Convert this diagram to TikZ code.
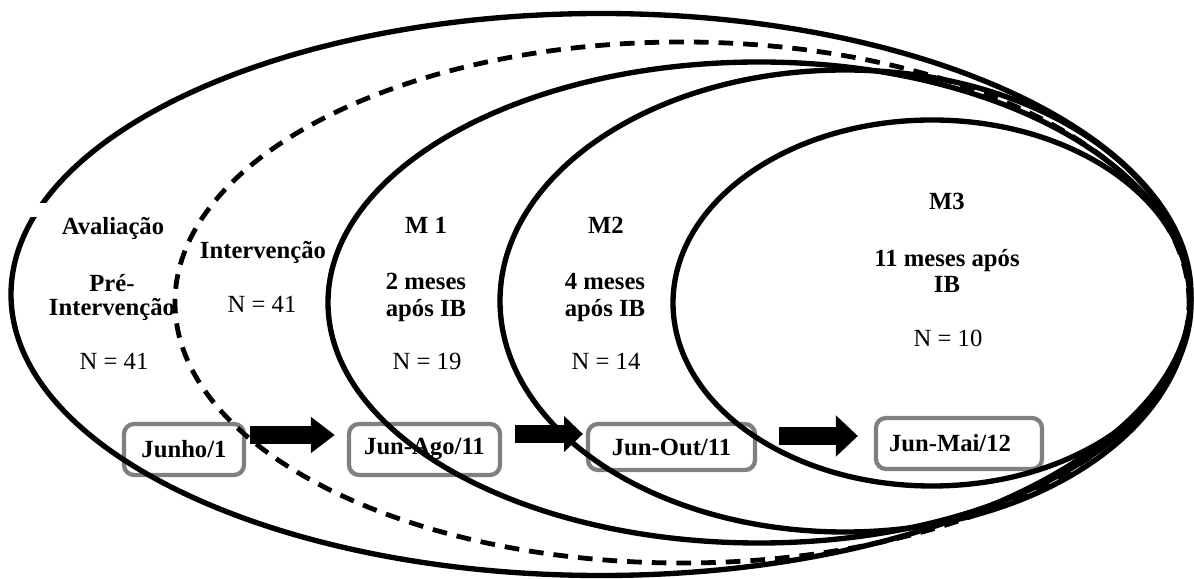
\documentclass[tikz,border=0pt]{standalone}
\usepackage{fontspec}
\setmainfont{Liberation Serif}
\usetikzlibrary{arrows.meta,calc}
\definecolor{boxgray}{RGB}{128,128,128}
\tikzset{
  ring/.style={line width=4pt},
  dashring/.style={line width=3.6pt, dash pattern=on 11pt off 7.5pt},
  datebox/.style={draw=boxgray, line width=3.2pt, rounded corners=7.5pt,
    font=\bfseries\fontsize{18.5}{22}\selectfont, inner sep=0pt},
  lbl/.style={font=\bfseries\fontsize{18.5}{22}\selectfont, anchor=base, inner sep=0pt},
  num/.style={font=\fontsize{18.5}{22}\selectfont, anchor=base, inner sep=0pt},
  blockarrow/.style={line width=13pt},
}
\begin{document}
\begin{tikzpicture}[x=0.75pt,y=0.75pt]
\useasboundingbox (0,0) rectangle (1194,578);

% date boxes
\node[datebox, minimum width=90pt, minimum height=38.25pt] (junho) at (184,128.5) {Junho/1};
\node[datebox, minimum width=113.25pt, minimum height=38.25pt] (ago) at (424.5,128.5) {Jun-Ago/11};
\node[datebox, minimum width=125.25pt, minimum height=34.5pt] (out) at (671.5,131) {Jun-Out/11};
\node[datebox, minimum width=124.5pt, minimum height=38.25pt] (mai) at (959,134.5) {Jun-Mai/12\hspace*{13.5pt}};

% ellipses
\draw[ring] (601,283.5) ellipse [x radius=590, y radius=281];
\fill[white] (30,361) rectangle (60,375);
\draw[dashring] (682,275.5) ellipse [x radius=507, y radius=260.5];
\draw[ring] (759,275.5) ellipse [x radius=431, y radius=240.5];
\draw[ring] (845,277) ellipse [x radius=345, y radius=231];
\draw[ring] (932,275) ellipse [x radius=259, y radius=183];

% block arrows
\draw[blockarrow, -{Triangle[length=18pt,width=26pt]}]
  ($(junho.east)+(4,14.5)$) -- ($(ago.west)+(-12,14.5)$);
\draw[blockarrow, -{Triangle[length=14pt,width=26pt]}]
  ($(ago.east)+(13,15.5)$) -- ($(out.west)+(-3,13)$);
\draw[blockarrow, -{Triangle[length=16.5pt,width=30pt]}]
  ($(out.east)+(22,11)$) -- ($(mai.west)+(-16,7.5)$);

% texts
\node[lbl] (av1) at (113,343) {Avaliação};
\node[lbl] (av2) at (112,286) {Pré-};
\node[lbl] (av3) at (112,262) {Intervenção};
\node[num] (avn) at (114,208) {N = 41};

\node[lbl] (iv1) at (263,319) {Intervenção};
\node[num] (ivn) at (262,265) {N = 41};

\node[lbl] (m1a) at (426,344) {M 1};
\node[lbl] (m1b) at (426,288) {2 meses};
\node[lbl] (m1c) at (426,261) {após IB};
\node[num] (m1n) at (427,208) {N = 19};

\node[lbl] (m2a) at (606,344) {M2};
\node[lbl] (m2b) at (605,288) {4 meses};
\node[lbl] (m2c) at (605,261) {após IB};
\node[num] (m2n) at (606,208) {N = 14};

\node[lbl] (m3a) at (947,368) {M3};
\node[lbl] (m3b) at (947,311) {11 meses após};
\node[lbl] (m3c) at (947,285) {IB};
\node[num] (m3n) at (948,231) {N = 10};
\end{tikzpicture}
\end{document}
